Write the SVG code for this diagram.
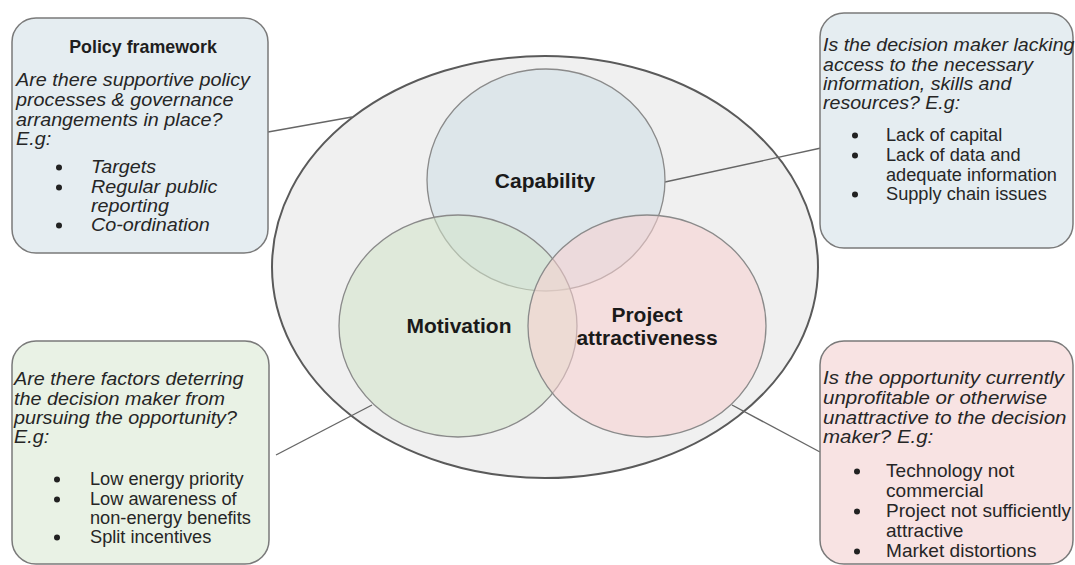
<svg xmlns="http://www.w3.org/2000/svg" width="1075" height="565" viewBox="0 0 1075 565">
<style>
.box{stroke:#7a7a7a;stroke-width:1.5}
.blue{fill:#e5edf1}
.green{fill:#e9f2e5}
.pink{fill:#f8e3e3}
.circ{stroke:#8a8a8a;stroke-width:1.3}
.conn{stroke:#666;stroke-width:1.4;fill:none}
text{font-family:"Liberation Sans",Arial,sans-serif;fill:#262626}
.it{font-size:17.5px;font-style:italic}
.rg{font-size:17.5px}
.ttl{font-size:17.5px;font-weight:bold;fill:#1e1e1e}
.lbl{font-size:20px;font-weight:bold;fill:#1a1a1a}
.bul{fill:#222}
</style>
<rect width="1075" height="565" fill="#ffffff"/>

<g id="venn">
<ellipse cx="545" cy="267" rx="273" ry="211" fill="#f0f0f0" stroke="#5a5a5a" stroke-width="2"/>
</g>

<g id="connectors">
<path class="conn" d="M268,132 L352,117" stroke-width="2" stroke="#555"/>
<path class="conn" d="M665,182 L821,148"/>
<path class="conn" d="M276,455 L372,405"/>
<path class="conn" d="M732,405 L820,452"/>
</g>

<g id="capability">
<ellipse class="circ" cx="546" cy="180" rx="119" ry="111" fill="#cddee5" fill-opacity="0.55"/>
</g>
<g id="motivation">
<ellipse class="circ" cx="458" cy="326" rx="119" ry="111" fill="#d1e3c8" fill-opacity="0.55"/>
</g>
<g id="project">
<ellipse class="circ" cx="647" cy="326" rx="119" ry="111" fill="#f7cfcf" fill-opacity="0.55"/>
</g>
<g id="labels">
<text class="lbl" text-anchor="middle" transform="translate(545,188) scale(1.05,1)">Capability</text>
<text class="lbl" text-anchor="middle" transform="translate(459,333) scale(1.05,1)">Motivation</text>
<text class="lbl" text-anchor="middle" transform="translate(647,322) scale(1.05,1)">Project</text>
<text class="lbl" text-anchor="middle" transform="translate(647,345) scale(1.05,1)">attractiveness</text>
</g>

<g id="policy">
<rect class="box blue" x="12" y="18" width="256" height="235" rx="24"/>
<text class="ttl" text-anchor="middle" transform="translate(143,53) scale(1.02,1)">Policy framework</text>
<g transform="translate(16,0) scale(1.13,1)">
<text class="it" y="86">Are there supportive policy</text>
<text class="it" y="106">processes &amp; governance</text>
<text class="it" y="126">arrangements in place?</text>
<text class="it" y="145">E.g:</text>
</g>
<g transform="translate(91,0) scale(1.13,1)">
<text class="it" y="173">Targets</text>
<text class="it" y="193">Regular public</text>
<text class="it" y="212">reporting</text>
<text class="it" y="231">Co-ordination</text>
</g>
<circle class="bul" cx="59" cy="167.5" r="3"/>
<circle class="bul" cx="59" cy="187.5" r="3"/>
<circle class="bul" cx="59" cy="225.5" r="3"/>
</g>

<g id="capability-box">
<rect class="box blue" x="820" y="13" width="253" height="235" rx="24"/>
<g transform="translate(823,0) scale(1.12,1)">
<text class="it" y="51">Is the decision maker lacking</text>
<text class="it" y="71">access to the necessary</text>
<text class="it" y="90">information, skills and</text>
<text class="it" y="109">resources? E.g:</text>
</g>
<g transform="translate(886,0) scale(1.04,1)">
<text class="rg" y="141">Lack of capital</text>
<text class="rg" y="161">Lack of data and</text>
<text class="rg" y="181">adequate information</text>
<text class="rg" y="200">Supply chain issues</text>
</g>
<circle class="bul" cx="855" cy="135.5" r="3"/>
<circle class="bul" cx="855" cy="155.5" r="3"/>
<circle class="bul" cx="855" cy="194.5" r="3"/>
</g>

<g id="motivation-box">
<rect class="box green" x="12" y="341" width="257" height="223" rx="24"/>
<g transform="translate(14,0) scale(1.13,1)">
<text class="it" y="385">Are there factors deterring</text>
<text class="it" y="405">the decision maker from</text>
<text class="it" y="424">pursuing the opportunity?</text>
<text class="it" y="443">E.g:</text>
</g>
<g transform="translate(90,0) scale(1.04,1)">
<text class="rg" y="485">Low energy priority</text>
<text class="rg" y="505">Low awareness of</text>
<text class="rg" y="524">non-energy benefits</text>
<text class="rg" y="543">Split incentives</text>
</g>
<circle class="bul" cx="57" cy="479.5" r="3"/>
<circle class="bul" cx="57" cy="499.5" r="3"/>
<circle class="bul" cx="57" cy="537.5" r="3"/>
</g>

<g id="project-box">
<rect class="box pink" x="820" y="341" width="253" height="223" rx="24"/>
<g transform="translate(823,0) scale(1.17,1)">
<text class="it" y="384">Is the opportunity currently</text>
<text class="it" y="404">unprofitable or otherwise</text>
<text class="it" y="424">unattractive to the decision</text>
<text class="it" y="443">maker? E.g:</text>
</g>
<g transform="translate(886,0) scale(1.09,1)">
<text class="rg" y="477">Technology not</text>
<text class="rg" y="497">commercial</text>
<text class="rg" y="517">Project not sufficiently</text>
<text class="rg" y="537">attractive</text>
<text class="rg" y="557">Market distortions</text>
</g>
<circle class="bul" cx="857" cy="471.5" r="3"/>
<circle class="bul" cx="857" cy="511.5" r="3"/>
<circle class="bul" cx="857" cy="551.5" r="3"/>
</g>
</svg>
